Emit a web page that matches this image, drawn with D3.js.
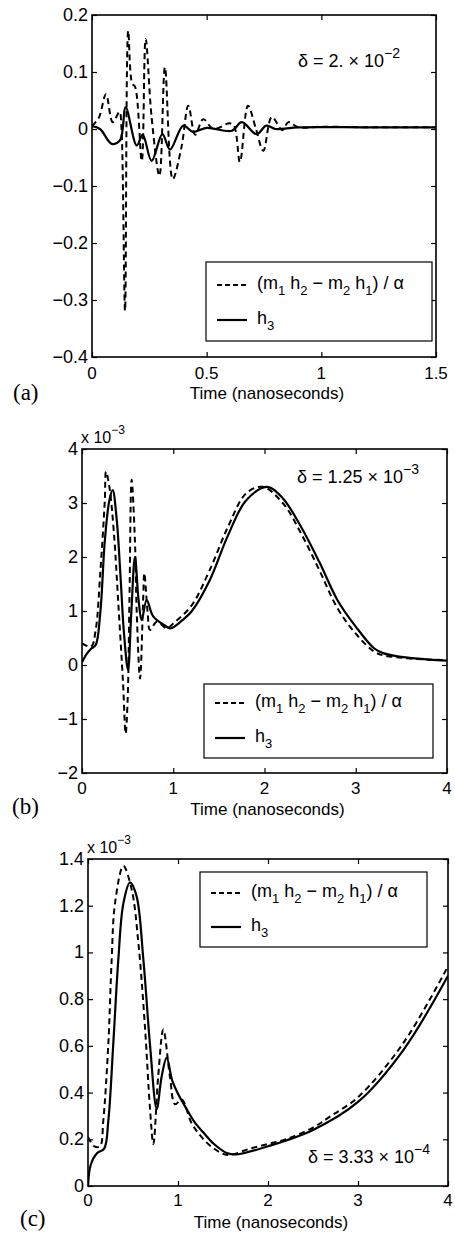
<!DOCTYPE html>
<html>
<head>
<meta charset="utf-8">
<script src="https://cdn.jsdelivr.net/npm/d3@7"></script>
<style>
  body { margin: 0; background: #fff; }
  svg text { font-family: "Liberation Sans", Arial, Helvetica, sans-serif; fill: #000; }
  .serif { font-family: "Liberation Serif", "DejaVu Serif", serif !important; }
</style>
</head>
<body>
<div id="chart"></div>
<script>
// ---- data ----
// panel (a): time in ns, values
var aDashT = [0, 0.03, 0.061, 0.09, 0.12, 0.128, 0.144, 0.158, 0.175, 0.188, 0.217, 0.234, 0.26, 0.294, 0.318, 0.352, 0.39, 0.42, 0.45, 0.485, 0.53, 0.6, 0.62, 0.645, 0.68, 0.715, 0.747, 0.784, 0.83, 0.856, 0.9, 1.0, 1.2, 1.5]
var aDashV = [0.005, 0.02, 0.061, 0.012, 0.03, 0.005, -0.319, 0.172, 0.08, 0.074, -0.056, 0.158, 0.02, -0.082, 0.108, -0.088, -0.032, 0.041, -0.01, 0.017, 0.0, 0.01, 0.005, -0.058, 0.041, 0.0, -0.038, 0.021, -0.002, 0.012, 0.003, 0.004, 0.003, 0.003]
var aSolidT = [0, 0.035, 0.086, 0.122, 0.147, 0.195, 0.221, 0.26, 0.307, 0.34, 0.398, 0.44, 0.5, 0.61, 0.653, 0.718, 0.76, 0.8, 0.9, 1.2, 1.5]
var aSolidV = [0.005, 0.0, -0.026, -0.02, 0.038, -0.029, -0.01, -0.056, -0.009, -0.036, 0.006, -0.005, 0.002, -0.003, 0.012, -0.009, 0.006, 0.0, 0.003, 0.003, 0.003]

// panel (b): values x 1e-3
var bDashT = [0, 0.1, 0.15, 0.2, 0.25, 0.263, 0.3, 0.35, 0.4, 0.45, 0.478, 0.5, 0.52, 0.544, 0.58, 0.6, 0.636, 0.67, 0.683, 0.72, 0.745, 0.82, 0.93, 1.0, 1.2, 1.4, 1.6, 1.8, 1.98, 2.2, 2.4, 2.6, 2.8, 3.0, 3.2, 3.3, 3.6, 4.0]
var bDashV = [0.4, 0.34, 0.65, 1.7, 3.05, 3.58, 3.3, 2.44, 1.08, -0.34, -1.27, -0.65, 1.2, 3.43, 2.3, 0.96, -0.25, 1.2, 1.7, 0.96, 0.65, 0.8, 0.68, 0.77, 1.1, 1.76, 2.56, 3.18, 3.3, 3.0, 2.44, 1.76, 1.05, 0.58, 0.25, 0.18, 0.12, 0.09]
var bSolidT = [0, 0.05, 0.1, 0.15, 0.2, 0.25, 0.3, 0.336, 0.38, 0.42, 0.46, 0.504, 0.54, 0.58, 0.62, 0.654, 0.709, 0.78, 0.9, 0.97, 1.1, 1.2, 1.4, 1.6, 1.8, 2.03, 2.2, 2.4, 2.6, 2.8, 3.0, 3.2, 3.3, 3.5, 3.8, 4.0]
var bSolidV = [0.05, 0.2, 0.3, 0.37, 0.96, 2.3, 3.05, 3.24, 2.7, 1.7, 0.59, -0.09, 0.96, 2.0, 1.2, 0.83, 1.2, 0.9, 0.74, 0.68, 0.83, 0.99, 1.57, 2.4, 3.05, 3.3, 3.09, 2.56, 1.91, 1.2, 0.71, 0.31, 0.22, 0.15, 0.1, 0.08]

// panel (c): values x 1e-3
var cDashT = [0, 0.07, 0.133, 0.17, 0.226, 0.263, 0.3, 0.393, 0.485, 0.56, 0.633, 0.69, 0.726, 0.78, 0.837, 0.91, 0.967, 1.04, 1.15, 1.26, 1.4, 1.55, 1.8, 2.0, 2.2, 2.5, 2.7, 3.0, 3.5, 4.0]
var cDashV = [0.21, 0.17, 0.17, 0.28, 0.61, 0.97, 1.21, 1.37, 1.27, 1.04, 0.68, 0.325, 0.18, 0.47, 0.67, 0.47, 0.35, 0.37, 0.27, 0.21, 0.16, 0.133, 0.16, 0.18, 0.2, 0.25, 0.3, 0.38, 0.61, 0.94]
var cSolidT = [0, 0.03, 0.1, 0.18, 0.226, 0.281, 0.337, 0.393, 0.467, 0.54, 0.615, 0.69, 0.763, 0.819, 0.874, 0.937, 1.02, 1.08, 1.19, 1.28, 1.4, 1.55, 1.65, 2.0, 2.5, 3.0, 3.5, 4.0]
var cSolidV = [0, 0.09, 0.14, 0.16, 0.28, 0.61, 0.97, 1.21, 1.3, 1.24, 0.97, 0.6, 0.33, 0.47, 0.55, 0.45, 0.38, 0.34, 0.27, 0.23, 0.18, 0.14, 0.135, 0.17, 0.24, 0.36, 0.58, 0.9]

var aYTicks = [-0.4, -0.3, -0.2, -0.1, 0, 0.1, 0.2]
var aXTicks = [0, 0.5, 1, 1.5]
var bYTicks = [-2, -1, 0, 1, 2, 3, 4]
var bXTicks = [0, 1, 2, 3, 4]
var cYTicks = [0, 0.2, 0.4, 0.6, 0.8, 1, 1.2, 1.4]
var cXTicks = [0, 1, 2, 3, 4]

var W = 455, H = 1238

var svg = d3.select("#chart").append("svg")
  .attr("width", W)
  .attr("height", H)

function zip(ts, vs) {
  return ts.map((t, i) => ({ t: t, v: vs[i] }))
}

function fmt(d) {
  var s = String(d)
  return d < 0 ? "\u2212" + s.slice(1) : s
}

// draws one MATLAB style panel
function panel(p) {
  var x = d3.scaleLinear().domain(p.xDomain).range([p.left, p.right])
  var y = d3.scaleLinear().domain(p.yDomain).range([p.bottom, p.top])
  var g = svg.append("g")

  var clipId = "clip-" + p.name
  g.append("clipPath").attr("id", clipId).append("rect")
    .attr("x", p.left).attr("y", p.top - 2)
    .attr("width", p.right - p.left).attr("height", p.bottom - p.top + 4)

  var line = d3.line().curve(d3.curveCatmullRom.alpha(0.5))
    .x(d => x(d.t)).y(d => y(d.v))

  var plot = g.append("g").attr("clip-path", "url(#" + clipId + ")")
  plot.append("path")
    .datum(zip(p.solidT, p.solidV))
    .attr("d", line)
    .attr("fill", "none").attr("stroke", "#000").attr("stroke-width", 2.2)
  plot.append("path")
    .datum(zip(p.dashT, p.dashV))
    .attr("d", line)
    .attr("fill", "none").attr("stroke", "#000").attr("stroke-width", 2)
    .attr("stroke-dasharray", "6,4")

  // ticks on all four sides, pointing in
  var tk = 5
  var axB = d3.axisBottom(x).tickValues(p.xTicks).tickSizeInner(-tk).tickSizeOuter(0).tickFormat("")
  var axT = d3.axisTop(x).tickValues(p.xTicks).tickSizeInner(-tk).tickSizeOuter(0).tickFormat("")
  var axL = d3.axisLeft(y).tickValues(p.yTicks).tickSizeInner(-tk).tickSizeOuter(0).tickFormat("")
  var axR = d3.axisRight(y).tickValues(p.yTicks).tickSizeInner(-tk).tickSizeOuter(0).tickFormat("")
  g.append("g").attr("transform", "translate(0," + p.bottom + ")").call(axB)
  g.append("g").attr("transform", "translate(0," + p.top + ")").call(axT)
  g.append("g").attr("transform", "translate(" + p.left + ",0)").call(axL)
  g.append("g").attr("transform", "translate(" + p.right + ",0)").call(axR)
  g.selectAll(".domain").remove()
  g.selectAll(".tick line").attr("stroke", "#000").attr("stroke-width", 1.2)

  g.append("rect")
    .attr("x", p.left).attr("y", p.top)
    .attr("width", p.right - p.left).attr("height", p.bottom - p.top)
    .attr("fill", "none").attr("stroke", "#000").attr("stroke-width", 1.6)

  // tick labels
  g.selectAll(".ylab").data(p.yTicks).enter().append("text")
    .attr("x", p.left - 4)
    .attr("y", d => y(d) + 6)
    .attr("text-anchor", "end")
    .style("font-size", "18px")
    .text(fmt)
  g.selectAll(".xlab").data(p.xTicks).enter().append("text")
    .attr("x", d => x(d))
    .attr("y", p.bottom + p.xLabDy)
    .attr("text-anchor", "middle")
    .style("font-size", "17px")
    .text(fmt)

  g.append("text")
    .attr("x", (p.left + p.right) / 2 + 3)
    .attr("y", p.bottom + 42)
    .attr("text-anchor", "middle")
    .style("font-size", "17px")
    .text("Time (nanoseconds)")

  g.append("text").attr("class", "serif")
    .attr("x", p.tagX).attr("y", p.bottom + p.tagDy)
    .style("font-size", "23px")
    .text(p.tag)

  if (p.expo) {
    var e = g.append("text").attr("x", p.left - 1).attr("y", p.top - 6).style("font-size", "16px")
    e.append("tspan").text("x 10")
    e.append("tspan").attr("dy", -9).style("font-size", "12px").text("\u22123")
  }

  // delta annotation
  var a = g.append("text").attr("x", p.noteX).attr("y", p.noteY).style("font-size", "18px")
  a.append("tspan").text("\u03b4 = " + p.note + " \u00d7 10")
  a.append("tspan").attr("dy", -9).style("font-size", "14px").text(p.noteExp)

  // legend
  var L = p.legend
  g.append("rect")
    .attr("x", L.x).attr("y", L.y).attr("width", L.w).attr("height", L.h)
    .attr("fill", "#fff").attr("stroke", "#000").attr("stroke-width", 1.2)
  var r1 = L.y + L.r1, r2 = L.y + L.r2
  g.append("line").attr("x1", L.x + 11).attr("x2", L.x + 41).attr("y1", r1).attr("y2", r1)
    .attr("stroke", "#000").attr("stroke-width", 2).attr("stroke-dasharray", "5,3")
  g.append("line").attr("x1", L.x + 11).attr("x2", L.x + 41).attr("y1", r2).attr("y2", r2)
    .attr("stroke", "#000").attr("stroke-width", 2.2)

  var t1 = g.append("text").attr("x", L.x + 51).attr("y", r1 + 4).style("font-size", "18px")
  var parts = [["(m", 0], ["1", 1], [" h", -1], ["2", 1], [" \u2212 m", -1], ["2", 1], [" h", -1], ["1", 1], [") / \u03b1", -1]]
  parts.forEach(function(q) {
    var s = t1.append("tspan").text(q[0])
    if (q[1] === 1) s.attr("dy", 6).style("font-size", "13px")
    if (q[1] === -1) s.attr("dy", -6)
  })
  var t2 = g.append("text").attr("x", L.x + 51).attr("y", r2 + 4).style("font-size", "18px")
  t2.append("tspan").text("h")
  t2.append("tspan").attr("dy", 6).style("font-size", "13px").text("3")
}

panel({
  name: "a", tag: "(a)", tagX: 13, tagDy: 43,
  left: 92, right: 436, top: 15, bottom: 357, xLabDy: 22,
  xDomain: [0, 1.5], yDomain: [-0.4, 0.2], xTicks: aXTicks, yTicks: aYTicks,
  dashT: aDashT, dashV: aDashV, solidT: aSolidT, solidV: aSolidV,
  note: "2.", noteExp: "\u22122", noteX: 298, noteY: 67,
  legend: { x: 206, y: 262, w: 226, h: 79, r1: 23, r2: 58 }
})

panel({
  name: "b", tag: "(b)", tagX: 12, tagDy: 41, expo: true,
  left: 82, right: 447, top: 449, bottom: 773, xLabDy: 21,
  xDomain: [0, 4], yDomain: [-2, 4], xTicks: bXTicks, yTicks: bYTicks,
  dashT: bDashT, dashV: bDashV, solidT: bSolidT, solidV: bSolidV,
  note: "1.25", noteExp: "\u22123", noteX: 297, noteY: 483,
  legend: { x: 204, y: 684, w: 229, h: 74, r1: 19, r2: 54 }
})

panel({
  name: "c", tag: "(c)", tagX: 20, tagDy: 40, expo: true,
  left: 88, right: 448, top: 859, bottom: 1186, xLabDy: 20,
  xDomain: [0, 4], yDomain: [0, 1.4], xTicks: cXTicks, yTicks: cYTicks,
  dashT: cDashT, dashV: cDashV, solidT: cSolidT, solidV: cSolidV,
  note: "3.33", noteExp: "\u22124", noteX: 308, noteY: 1163,
  legend: { x: 200, y: 872, w: 227, h: 75, r1: 21, r2: 55 }
})
</script>
</body>
</html>
